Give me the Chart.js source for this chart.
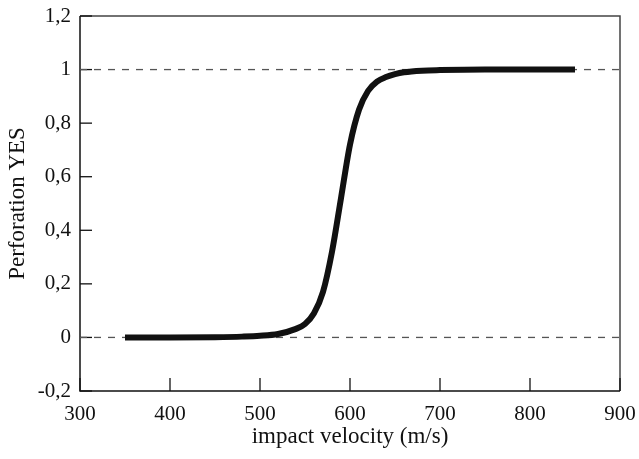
<!DOCTYPE html>
<html>
<head>
<meta charset="utf-8">
<script src="https://cdn.jsdelivr.net/npm/chart.js@4.4.0/dist/chart.umd.min.js"></script>
<style>
  html, body { margin: 0; padding: 0; background: #ffffff; }
  #wrap { width: 639px; height: 459px; position: relative; }
</style>
</head>
<body>
<div id="wrap"><canvas id="perfChart"></canvas></div>
<script>
// Curve
const velocity = [350, 400, 450, 480, 500, 520, 540, 550, 560, 570, 580, 590, 600, 610, 620, 630, 640, 650, 660, 680, 700, 750, 800, 850];
const perforation = [0, 0, 0.001, 0.003, 0.006, 0.013, 0.032, 0.05, 0.09, 0.17, 0.32, 0.52, 0.72, 0.85, 0.92, 0.955, 0.972, 0.983, 0.99, 0.996, 0.998, 1, 1, 1];

// Axes
const xTicks = [300, 400, 500, 600, 700, 800, 900];
const yTicks = [-0.2, 0, 0.2, 0.4, 0.6, 0.8, 1, 1.2];
const yTickLabels = ['-0,2', '0', '0,2', '0,4', '0,6', '0,8', '1', '1,2'];
const refLevels = [0, 1];

const serif = "'Liberation Serif', 'DejaVu Serif', serif";

// Frame and inward tick marks
const frameTicks = {
    id: 'frameTicks',
    beforeDatasetsDraw(chart) {
        const ctx = chart.ctx;
        const area = chart.chartArea;
        const xs = chart.scales.x;
        const ys = chart.scales.y;
        ctx.save();
        ctx.lineWidth = 1.5;
        ctx.strokeStyle = '#444';
        ctx.beginPath();
        ctx.moveTo(area.left, area.top);
        ctx.lineTo(area.right, area.top);
        ctx.lineTo(area.right, area.bottom);
        ctx.stroke();
        ctx.strokeStyle = '#111';
        ctx.beginPath();
        ctx.moveTo(area.left, area.top);
        ctx.lineTo(area.left, area.bottom);
        ctx.lineTo(area.right, area.bottom);
        ctx.stroke();
        ctx.lineWidth = 1.3;
        xTicks.forEach(v => {
            const px = xs.getPixelForValue(v);
            ctx.beginPath();
            ctx.moveTo(px, area.bottom);
            ctx.lineTo(px, area.bottom - 13);
            ctx.stroke();
        });
        yTicks.forEach(v => {
            const py = ys.getPixelForValue(v);
            ctx.beginPath();
            ctx.moveTo(area.left, py);
            ctx.lineTo(area.left + 12, py);
            ctx.stroke();
        });
        ctx.restore();
    }
};

// Dashed reference lines sit beneath the curve
const refDatasets = refLevels.map(level => ({
    data: [{ x: xTicks[0], y: level }, { x: xTicks[xTicks.length - 1], y: level }],
    borderColor: '#555',
    borderWidth: 1.3,
    borderDash: [7, 7],
    pointRadius: 0,
    fill: false,
    order: 2
}));

const ctx = document.getElementById('perfChart').getContext('2d');
new Chart(ctx, {
    type: 'line',
    data: {
        datasets: [
            {
                data: velocity.map((v, i) => ({ x: v, y: perforation[i] })),
                borderColor: '#111',
                borderWidth: 6,
                borderCapStyle: 'butt',
                pointRadius: 0,
                cubicInterpolationMode: 'monotone',
                fill: false,
                order: 1
            },
            ...refDatasets
        ]
    },
    options: {
        responsive: true,
        maintainAspectRatio: false,
        animation: false,
        layout: { padding: { top: 16, right: 19, left: 0, bottom: 0 } },
        plugins: {
            legend: { display: false },
            tooltip: { enabled: false }
        },
        scales: {
            x: {
                type: 'linear',
                min: xTicks[0],
                max: xTicks[xTicks.length - 1],
                afterBuildTicks: scale => { scale.ticks = xTicks.map(v => ({ value: v })); },
                afterFit: scale => {
                    scale.height = 68;
                    scale.paddingLeft = 0;
                    scale.paddingRight = 0;
                },
                grid: { display: false, drawTicks: false },
                border: { display: false },
                ticks: {
                    color: '#111',
                    padding: 11,
                    maxRotation: 0,
                    font: { family: serif, size: 21 }
                },
                title: {
                    display: true,
                    text: 'impact velocity (m/s)',
                    color: '#111',
                    font: { family: serif, size: 23 },
                    padding: { top: 0, bottom: 8 }
                }
            },
            y: {
                type: 'linear',
                min: yTicks[0],
                max: yTicks[yTicks.length - 1],
                afterBuildTicks: scale => { scale.ticks = yTicks.map(v => ({ value: v })); },
                afterFit: scale => {
                    scale.width = 80;
                    scale.paddingTop = 0;
                    scale.paddingBottom = 0;
                },
                grid: { display: false, drawTicks: false },
                border: { display: false },
                ticks: {
                    color: '#111',
                    padding: 9,
                    font: { family: serif, size: 21 },
                    callback: function(value) {
                        const idx = yTicks.findIndex(t => Math.abs(t - value) < 1e-9);
                        return idx >= 0 ? yTickLabels[idx] : '';
                    }
                },
                title: {
                    display: true,
                    text: 'Perforation YES',
                    color: '#111',
                    font: { family: serif, size: 23 },
                    padding: { top: 4, bottom: 0 }
                }
            }
        }
    },
    plugins: [frameTicks]
});
</script>
</body>
</html>
